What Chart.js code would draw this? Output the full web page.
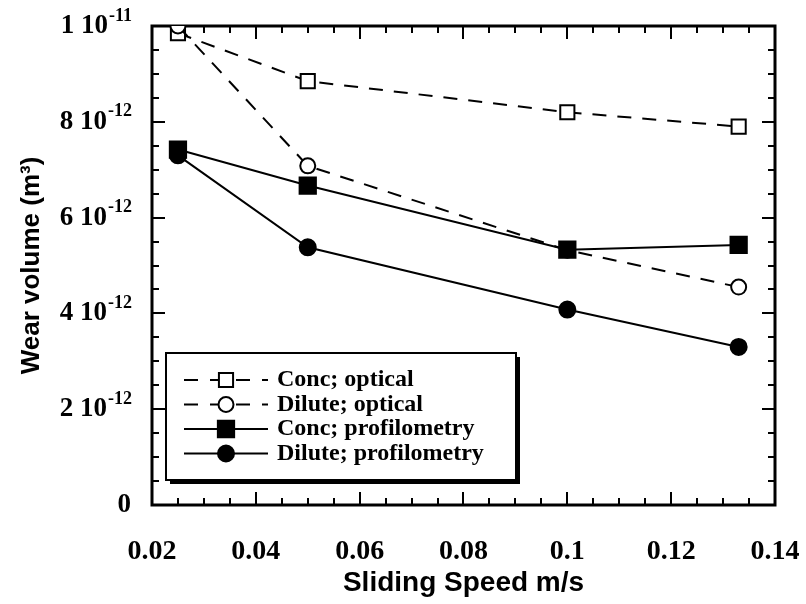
<!DOCTYPE html>
<html>
<head>
<meta charset="utf-8">
<script src="https://cdn.jsdelivr.net/npm/chart.js@4"></script>
<style>
  html, body { margin: 0; padding: 0; background: #fff; }
  #wrap { width: 806px; height: 604px; }
</style>
</head>
<body>
<div id="wrap"><canvas id="wear"></canvas></div>
<script>
// sliding speed (m/s)
const speeds = [0.025, 0.05, 0.1, 0.133];

// wear volume (m^3)
const concOptical = [9.85e-12, 8.85e-12, 8.2e-12, 7.9e-12];
const diluteOptical = [10.0e-12, 7.08e-12, 5.32e-12, 4.55e-12];
const concProfil = [7.42e-12, 6.67e-12, 5.33e-12, 5.43e-12];
const diluteProfil = [7.3e-12, 5.38e-12, 4.08e-12, 3.3e-12];

const seriesNames = ['Conc; optical', 'Dilute; optical', 'Conc; profilometry', 'Dilute; profilometry'];

// tick labels (mantissa / exponent)
const yTicks = [0, 2e-12, 4e-12, 6e-12, 8e-12, 1e-11];
const yTickLabels = ['0', '2 10^-12', '4 10^-12', '6 10^-12', '8 10^-12', '1 10^-11'];
const xTicks = [0.02, 0.04, 0.06, 0.08, 0.1, 0.12, 0.14];
const xTickLabels = ['0.02', '0.04', '0.06', '0.08', '0.1', '0.12', '0.14'];

const toPoints = ys => speeds.map((x, i) => ({ x: x, y: ys[i] }));

const styles = [
  { dash: [14, 11], shape: 'rect', r: 10, fill: '#fff' },
  { dash: [14, 11], shape: 'circle', r: 7.5, fill: '#fff' },
  { dash: [], shape: 'rect', r: 11.5, fill: '#000' },
  { dash: [], shape: 'circle', r: 8, fill: '#000' }
];
const allSeries = [concOptical, diluteOptical, concProfil, diluteProfil];

// frame, inward ticks, superscript y labels, boxed legend
const framePlugin = {
  id: 'framePlugin',
  beforeDatasetsDraw(chart) {
    const { ctx, chartArea: a, scales: { x, y } } = chart;
    ctx.save();
    ctx.strokeStyle = '#000';
    ctx.lineWidth = 2;
    for (let k = 0; k <= 24; k++) {
      const v = 0.02 + k * 0.005;
      const px = Math.round(x.getPixelForValue(v));
      const len = k % 4 === 0 ? 13 : 7;
      ctx.beginPath();
      ctx.moveTo(px, a.bottom); ctx.lineTo(px, a.bottom - len);
      ctx.moveTo(px, a.top); ctx.lineTo(px, a.top + len);
      ctx.stroke();
    }
    for (let k = 0; k <= 20; k++) {
      const v = k * 0.5e-12;
      const py = Math.round(y.getPixelForValue(v));
      const len = k % 4 === 0 ? 13 : 7;
      ctx.beginPath();
      ctx.moveTo(a.left, py); ctx.lineTo(a.left + len, py);
      ctx.moveTo(a.right, py); ctx.lineTo(a.right - len, py);
      ctx.stroke();
    }
    ctx.lineWidth = 3;
    ctx.strokeRect(a.left, a.top, a.right - a.left, a.bottom - a.top);

    // y tick labels with superscript exponent
    ctx.fillStyle = '#000';
    ctx.textBaseline = 'middle';
    yTicks.forEach((v, i) => {
      const py = y.getPixelForValue(v);
      const parts = yTickLabels[i].split('^');
      const right = a.left - 20;
      ctx.font = 'bold 18px "Liberation Serif", serif';
      const expW = parts[1] ? ctx.measureText(parts[1]).width : 0;
      if (parts[1]) {
        ctx.textAlign = 'right';
        ctx.fillText(parts[1], right, py - 10);
      }
      ctx.font = 'bold 27px "Liberation Serif", serif';
      ctx.textAlign = 'right';
      ctx.fillText(parts[0], right - expW - 1, py);
    });
    ctx.restore();
  },
  afterDraw(chart) {
    const { ctx } = chart;
    const bx = 166, by = 353, bw = 350, bh = 127;
    ctx.save();
    ctx.fillStyle = '#000';
    ctx.fillRect(bx + 4, by + 4, bw, bh);
    ctx.fillStyle = '#fff';
    ctx.fillRect(bx, by, bw, bh);
    ctx.strokeStyle = '#000';
    ctx.lineWidth = 2;
    ctx.strokeRect(bx, by, bw, bh);
    ctx.font = 'bold 24px "Liberation Serif", serif';
    ctx.textBaseline = 'middle';
    ctx.textAlign = 'left';
    seriesNames.forEach((name, i) => {
      const st = styles[i];
      const ly = by + 27 + i * 24.5;
      ctx.strokeStyle = '#000';
      ctx.lineWidth = 2;
      ctx.setLineDash(st.dash.length ? [14, 12] : []);
      ctx.beginPath();
      ctx.moveTo(184, ly); ctx.lineTo(268, ly);
      ctx.stroke();
      ctx.setLineDash([]);
      ctx.fillStyle = st.fill;
      ctx.beginPath();
      if (st.shape === 'rect') {
        const s = st.r * Math.SQRT1_2;
        ctx.rect(226 - s, ly - s, 2 * s, 2 * s);
      } else {
        ctx.arc(226, ly, st.r, 0, Math.PI * 2);
      }
      ctx.fill();
      ctx.stroke();
      ctx.fillStyle = '#000';
      ctx.fillText(name, 277, ly);
    });
    ctx.restore();
  }
};

new Chart(document.getElementById('wear'), {
  type: 'scatter',
  data: {
    datasets: allSeries.map((ys, i) => ({
      label: seriesNames[i],
      data: toPoints(ys),
      showLine: true,
      borderColor: '#000',
      borderWidth: 2,
      borderDash: styles[i].dash,
      pointStyle: styles[i].shape,
      pointRadius: styles[i].r,
      pointBackgroundColor: styles[i].fill,
      pointBorderColor: '#000',
      pointBorderWidth: 2,
      order: 4 - i
    }))
  },
  options: {
    responsive: true,
    maintainAspectRatio: false,
    animation: false,
    layout: { padding: { top: 26, right: 31, left: 0, bottom: 0 } },
    plugins: { legend: { display: false }, tooltip: { enabled: false } },
    scales: {
      x: {
        type: 'linear',
        min: 0.02,
        max: 0.14,
        afterBuildTicks: s => { s.ticks = xTicks.map(v => ({ value: v })); },
        afterFit: s => { s.height = 99; s.paddingLeft = 0; s.paddingRight = 0; },
        grid: { display: false },
        border: { display: false },
        ticks: {
          color: '#000',
          padding: 22,
          font: { family: '"Liberation Serif", serif', size: 28, weight: 'bold' },
          callback: (v, i) => xTickLabels[i]
        },
        title: {
          display: true,
          text: 'Sliding Speed m/s',
          color: '#000',
          padding: { top: 0, bottom: 4 },
          font: { family: '"Liberation Sans", Arial, sans-serif', size: 28, weight: 'bold' }
        }
      },
      y: {
        type: 'linear',
        min: 0,
        max: 1e-11,
        afterBuildTicks: s => { s.ticks = yTicks.map(v => ({ value: v })); },
        afterFit: s => { s.width = 152; s.paddingTop = 0; s.paddingBottom = 0; },
        grid: { display: false },
        border: { display: false },
        ticks: { display: false },
        title: {
          display: true,
          text: 'Wear volume (m³)',
          color: '#000',
          padding: { top: 16, bottom: 0 },
          font: { family: '"Liberation Sans", Arial, sans-serif', size: 26, weight: 'bold' }
        }
      }
    }
  },
  plugins: [framePlugin]
});
</script>
</body>
</html>
